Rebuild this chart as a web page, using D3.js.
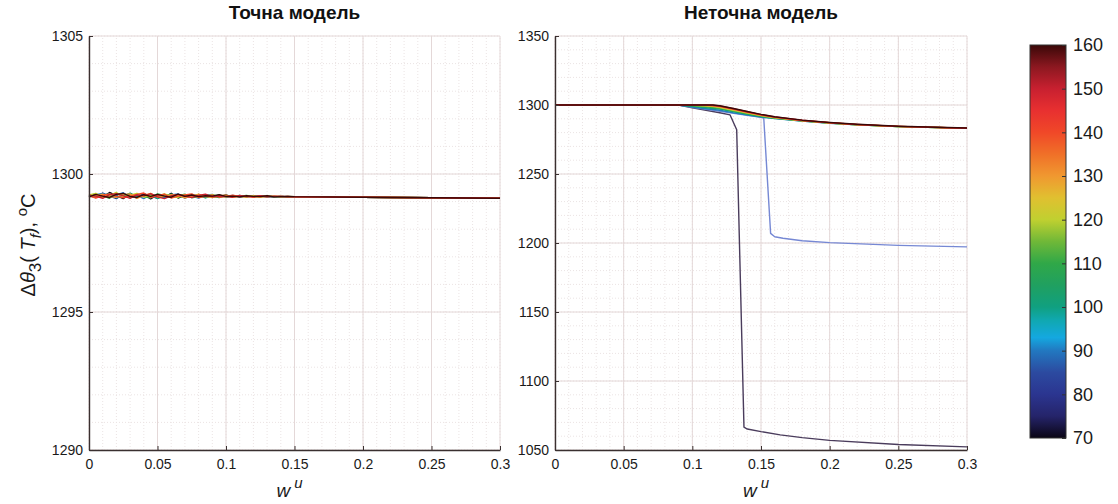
<!DOCTYPE html>
<html>
<head>
<meta charset="utf-8">
<script src="https://cdn.jsdelivr.net/npm/d3@7"></script>
<style>
  body { margin: 0; background: #fff; }
  svg { font-family: "Liberation Sans", Arial, sans-serif; }
  .grid-major line { stroke: #e4d8d8; stroke-width: 1; }
  .grid-minor line { stroke: #ebe4e4; stroke-width: 1; stroke-dasharray: 1,2; }
  .axis path, .axis line { stroke: #3a3030; }
  .axis text { fill: #1a1a1a; font-size: 14px; }
</style>
</head>
<body>
<div id="chart"></div>
<script>
// temperatures of the curves (colour bar values)
const temps = [70, 80, 90, 100, 110, 120, 130, 140, 150, 160];

// left panel: exact model
const wuL = [0, 0.005, 0.01, 0.015, 0.02, 0.025, 0.03, 0.035, 0.04, 0.045, 0.05, 0.055, 0.06, 0.065, 0.07, 0.075,
    0.08, 0.085, 0.09, 0.095, 0.1, 0.105, 0.11, 0.115, 0.12, 0.125, 0.13, 0.135, 0.14, 0.145, 0.15, 0.2, 0.25, 0.3];
const exact70  = [1299.20, 1299.28, 1299.16, 1299.33, 1299.22, 1299.11, 1299.29, 1299.18, 1299.27, 1299.10, 1299.25, 1299.15, 1299.30, 1299.13, 1299.23, 1299.17, 1299.26, 1299.15, 1299.22, 1299.19, 1299.24, 1299.16, 1299.21, 1299.18, 1299.21, 1299.17, 1299.19, 1299.18, 1299.19, 1299.17, 1299.18, 1299.16, 1299.14, 1299.12];
const exact80  = [1299.22, 1299.15, 1299.31, 1299.20, 1299.11, 1299.28, 1299.21, 1299.13, 1299.29, 1299.20, 1299.12, 1299.26, 1299.17, 1299.24, 1299.13, 1299.23, 1299.19, 1299.25, 1299.15, 1299.22, 1299.18, 1299.21, 1299.17, 1299.21, 1299.18, 1299.20, 1299.17, 1299.19, 1299.18, 1299.18, 1299.17, 1299.16, 1299.14, 1299.12];
const exact90  = [1299.18, 1299.25, 1299.30, 1299.15, 1299.24, 1299.32, 1299.16, 1299.23, 1299.11, 1299.27, 1299.20, 1299.14, 1299.24, 1299.28, 1299.16, 1299.20, 1299.13, 1299.23, 1299.26, 1299.17, 1299.20, 1299.22, 1299.16, 1299.20, 1299.19, 1299.21, 1299.18, 1299.17, 1299.19, 1299.18, 1299.18, 1299.16, 1299.14, 1299.12];
const exact100 = [1299.25, 1299.18, 1299.23, 1299.29, 1299.14, 1299.21, 1299.31, 1299.17, 1299.20, 1299.25, 1299.11, 1299.21, 1299.27, 1299.19, 1299.15, 1299.25, 1299.21, 1299.14, 1299.20, 1299.24, 1299.16, 1299.19, 1299.22, 1299.17, 1299.20, 1299.18, 1299.20, 1299.18, 1299.17, 1299.19, 1299.18, 1299.16, 1299.14, 1299.12];
const exact110 = [1299.16, 1299.24, 1299.21, 1299.12, 1299.30, 1299.25, 1299.15, 1299.27, 1299.18, 1299.13, 1299.28, 1299.22, 1299.15, 1299.21, 1299.27, 1299.14, 1299.19, 1299.24, 1299.18, 1299.15, 1299.21, 1299.18, 1299.20, 1299.22, 1299.17, 1299.19, 1299.21, 1299.17, 1299.19, 1299.18, 1299.17, 1299.16, 1299.14, 1299.12];
const exact120 = [1299.24, 1299.30, 1299.15, 1299.22, 1299.33, 1299.17, 1299.23, 1299.30, 1299.16, 1299.22, 1299.19, 1299.28, 1299.20, 1299.15, 1299.25, 1299.21, 1299.16, 1299.20, 1299.25, 1299.19, 1299.17, 1299.21, 1299.19, 1299.16, 1299.21, 1299.19, 1299.17, 1299.20, 1299.18, 1299.18, 1299.18, 1299.16, 1299.14, 1299.12];
const exact130 = [1299.19, 1299.21, 1299.27, 1299.18, 1299.16, 1299.25, 1299.28, 1299.12, 1299.22, 1299.30, 1299.16, 1299.19, 1299.25, 1299.22, 1299.14, 1299.19, 1299.27, 1299.18, 1299.15, 1299.21, 1299.23, 1299.16, 1299.18, 1299.21, 1299.19, 1299.16, 1299.20, 1299.19, 1299.17, 1299.19, 1299.18, 1299.16, 1299.14, 1299.12];
const exact140 = [1299.21, 1299.13, 1299.22, 1299.28, 1299.19, 1299.14, 1299.20, 1299.26, 1299.31, 1299.15, 1299.21, 1299.27, 1299.13, 1299.20, 1299.24, 1299.28, 1299.15, 1299.19, 1299.23, 1299.16, 1299.19, 1299.23, 1299.18, 1299.19, 1299.16, 1299.20, 1299.19, 1299.18, 1299.20, 1299.17, 1299.18, 1299.16, 1299.14, 1299.12];
const exact150 = [1299.23, 1299.20, 1299.12, 1299.25, 1299.29, 1299.21, 1299.12, 1299.24, 1299.21, 1299.29, 1299.17, 1299.11, 1299.21, 1299.26, 1299.20, 1299.15, 1299.22, 1299.27, 1299.17, 1299.20, 1299.18, 1299.16, 1299.22, 1299.18, 1299.18, 1299.21, 1299.17, 1299.20, 1299.18, 1299.19, 1299.17, 1299.16, 1299.14, 1299.12];
const exact160 = [1299.17, 1299.26, 1299.20, 1299.15, 1299.26, 1299.30, 1299.19, 1299.15, 1299.25, 1299.19, 1299.26, 1299.20, 1299.16, 1299.27, 1299.19, 1299.24, 1299.18, 1299.21, 1299.20, 1299.25, 1299.19, 1299.20, 1299.17, 1299.21, 1299.19, 1299.18, 1299.21, 1299.17, 1299.18, 1299.19, 1299.18, 1299.16, 1299.14, 1299.12];
const exactSeries = [exact70, exact80, exact90, exact100, exact110, exact120, exact130, exact140, exact150, exact160];

// right panel: inexact model
const wuR = [0, 0.09, 0.1, 0.11, 0.115, 0.12, 0.13, 0.14, 0.15, 0.16, 0.18, 0.2, 0.22, 0.25, 0.3];
const inexact90  = [1300, 1300, 1298.6, 1297.3, 1296.7, 1296.2, 1294.3, 1292.7, 1291.2, 1290.2, 1288.3, 1286.8, 1285.6, 1284.3, 1283.1];
const inexact100 = [1300, 1300, 1299.0, 1298.0, 1297.5, 1297.0, 1295.0, 1293.2, 1291.6, 1290.4, 1288.4, 1286.9, 1285.6, 1284.3, 1283.1];
const inexact110 = [1300, 1300, 1299.4, 1298.7, 1298.2, 1297.6, 1295.6, 1293.7, 1292.0, 1290.6, 1288.5, 1287.0, 1285.7, 1284.3, 1283.1];
const inexact120 = [1300, 1300, 1299.7, 1299.2, 1298.8, 1298.2, 1296.2, 1294.2, 1292.3, 1290.8, 1288.6, 1287.0, 1285.7, 1284.4, 1283.1];
const inexact130 = [1300, 1300, 1300, 1299.6, 1299.2, 1298.7, 1296.7, 1294.6, 1292.6, 1291.0, 1288.7, 1287.1, 1285.8, 1284.4, 1283.2];
const inexact140 = [1300, 1300, 1300, 1300, 1299.6, 1299.0, 1297.0, 1294.9, 1292.8, 1291.2, 1288.8, 1287.1, 1285.8, 1284.5, 1283.2];
const inexact150 = [1300, 1300, 1300, 1300, 1299.8, 1299.3, 1297.3, 1295.1, 1293.0, 1291.3, 1288.9, 1287.2, 1285.9, 1284.5, 1283.2];
const inexact160 = [1300, 1300, 1300, 1300, 1300, 1299.5, 1297.5, 1295.3, 1293.2, 1291.5, 1289.0, 1287.3, 1286.0, 1284.6, 1283.3];
const wu80 = [0, 0.09, 0.1, 0.11, 0.12, 0.13, 0.14, 0.15, 0.152, 0.157, 0.16, 0.166, 0.18, 0.2, 0.25, 0.3];
const inexact80 = [1300, 1300, 1298.3, 1296.8, 1295.5, 1294.0, 1292.5, 1291.1, 1290.6, 1207, 1204.5, 1203.4, 1201.6, 1200.3, 1198.3, 1197.2];
const wu70 = [0, 0.09, 0.1, 0.11, 0.12, 0.1275, 0.1323, 0.1376, 0.14, 0.15, 0.164, 0.18, 0.2, 0.25, 0.3];
const inexact70 = [1300, 1300, 1298.0, 1296.2, 1294.4, 1292.8, 1282, 1066.5, 1065.2, 1063.3, 1061, 1059, 1057, 1054, 1052.3];

const xTicks = [0, 0.05, 0.1, 0.15, 0.2, 0.25, 0.3];
const xTickLabels = ['0', '0.05', '0.1', '0.15', '0.2', '0.25', '0.3'];
const yTicksL = [1290, 1295, 1300, 1305];
const yTicksR = [1050, 1100, 1150, 1200, 1250, 1300, 1350];
const cbarTicks = [70, 80, 90, 100, 110, 120, 130, 140, 150, 160];

// colour map of the colour bar
const cmapStops = [70, 75, 80, 85, 90, 93, 97, 100, 105, 110, 115, 120, 125, 130, 135, 140, 145, 150, 155, 160];
const cmapColors = ['#0a0514', '#25246a', '#2b3590', '#2c4aa0', '#2278c0', '#14a8e0', '#10a8b0', '#10a080', '#20a060',
    '#30a848', '#70b838', '#c0d030', '#e0c030', '#f09830', '#f07028', '#f04828', '#e83030', '#c82030', '#8c1820', '#3a0808'];

const cmap = d3.scaleLinear().domain(cmapStops).range(cmapColors).interpolate(d3.interpolateRgb);

const svg = d3.select('#chart').append('svg')
    .attr('width', 1118)
    .attr('height', 504);

const drawPanel = function drawPanel(opts) {
    const x = d3.scaleLinear().domain([0, 0.3]).range(opts.xRange);
    const y = d3.scaleLinear().domain(opts.yDomain).range([450, 36]);
    const g = svg.append('g');

    // minor grid
    const minorX = d3.range(0, 0.3001, 0.01);
    const minorY = d3.range(opts.yDomain[0], opts.yDomain[1] + 0.001, opts.minorStep);
    const gm = g.append('g').attr('class', 'grid-minor');
    gm.selectAll('.mx').data(minorX).enter().append('line')
        .attr('x1', (d) => x(d)).attr('x2', (d) => x(d))
        .attr('y1', y.range()[0]).attr('y2', y.range()[1]);
    gm.selectAll('.my').data(minorY).enter().append('line')
        .attr('y1', (d) => y(d)).attr('y2', (d) => y(d))
        .attr('x1', x.range()[0]).attr('x2', x.range()[1]);

    // major grid
    const gM = g.append('g').attr('class', 'grid-major');
    gM.selectAll('.Mx').data(xTicks).enter().append('line')
        .attr('x1', (d) => x(d)).attr('x2', (d) => x(d))
        .attr('y1', y.range()[0]).attr('y2', y.range()[1]);
    gM.selectAll('.My').data(opts.yTicks).enter().append('line')
        .attr('y1', (d) => y(d)).attr('y2', (d) => y(d))
        .attr('x1', x.range()[0]).attr('x2', x.range()[1]);

    // curves
    const line = d3.line()
        .x((d) => x(d[0]))
        .y((d) => y(d[1]));

    g.append('g').selectAll('path')
        .data(opts.series)
        .enter()
    .append('path')
        .attr('d', (d) => line(d.xs.map((v, i) => [v, d.ys[i]])))
        .attr('fill', 'none')
        .attr('stroke', (d) => d.color || cmap(d.t))
        .attr('stroke-width', 1.4)
        .attr('stroke-linejoin', 'round');

    // axes
    g.append('g')
        .attr('class', 'axis')
        .attr('transform', 'translate(0,450)')
        .call(d3.axisBottom(x).tickValues(xTicks)
            .tickFormat((d, i) => xTickLabels[i])
            .tickSizeInner(-4).tickSizeOuter(0).tickPadding(9));

    g.append('g')
        .attr('class', 'axis')
        .attr('transform', 'translate(' + opts.xRange[0] + ',0)')
        .call(d3.axisLeft(y).tickValues(opts.yTicks)
            .tickFormat(d3.format('d'))
            .tickSizeInner(-4).tickSizeOuter(0).tickPadding(6));

    g.selectAll('.axis .domain').attr('stroke-width', 1.4);

    // title
    svg.append('text')
        .attr('x', (opts.xRange[0] + opts.xRange[1]) / 2)
        .attr('y', 19)
        .attr('text-anchor', 'middle')
        .style('font-size', '19px')
        .style('font-weight', 'bold')
        .style('fill', '#111')
        .text(opts.title);

    // x label
    const xl = svg.append('text')
        .attr('x', (opts.xRange[0] + opts.xRange[1]) / 2 - 5)
        .attr('y', 497)
        .attr('text-anchor', 'middle')
        .style('font-size', '19px')
        .style('font-style', 'italic')
        .style('fill', '#1a1a1a');
    xl.append('tspan').text('w');
    xl.append('tspan').attr('dx', 4).attr('dy', -9).style('font-size', '15px').text('u');
};

drawPanel({
    title: 'Точна модель',
    xRange: [89, 500],
    yDomain: [1290, 1305],
    yTicks: yTicksL,
    minorStep: 1,
    series: exactSeries.map((ys, i) => ({t: temps[i], xs: wuL, ys: ys}))
});

drawPanel({
    title: 'Неточна модель',
    xRange: [555, 967],
    yDomain: [1050, 1350],
    yTicks: yTicksR,
    minorStep: 10,
    series: [
        {t: 70, xs: wu70, ys: inexact70, color: '#4a3c5c'},
        {t: 80, xs: wu80, ys: inexact80, color: '#7688d4'},
        {t: 90, xs: wuR, ys: inexact90},
        {t: 100, xs: wuR, ys: inexact100},
        {t: 110, xs: wuR, ys: inexact110},
        {t: 120, xs: wuR, ys: inexact120},
        {t: 130, xs: wuR, ys: inexact130},
        {t: 140, xs: wuR, ys: inexact140},
        {t: 150, xs: wuR, ys: inexact150},
        {t: 160, xs: wuR, ys: inexact160}
    ]
});

// y label
const yl = svg.append('text')
    .attr('transform', 'translate(35,245) rotate(-90)')
    .attr('text-anchor', 'middle')
    .style('font-size', '20px')
    .style('fill', '#1a1a1a');
yl.append('tspan').text('Δ');
yl.append('tspan').style('font-style', 'italic').text('θ');
yl.append('tspan').attr('dy', 6).style('font-size', '17px').text('3');
yl.append('tspan').attr('dy', -6).text('( ');
yl.append('tspan').style('font-style', 'italic').text('T');
yl.append('tspan').attr('dy', 6).style('font-size', '15px').style('font-style', 'italic').text('f');
yl.append('tspan').attr('dy', -6).text('), ');
yl.append('tspan').attr('dy', -8).style('font-size', '15px').text('o');
yl.append('tspan').attr('dy', 8).text('C');

// colour bar
const cb = d3.scaleLinear().domain([70, 160]).range([438, 45]);
const defs = svg.append('defs');
const grad = defs.append('linearGradient')
    .attr('id', 'cbar')
    .attr('x1', 0).attr('x2', 0).attr('y1', 1).attr('y2', 0);
grad.selectAll('stop')
    .data(cmapStops)
    .enter()
.append('stop')
    .attr('offset', (d) => (d - 70) / 90)
    .attr('stop-color', (d) => cmap(d));

svg.append('rect')
    .attr('x', 1030).attr('y', cb(160))
    .attr('width', 36).attr('height', cb(70) - cb(160))
    .attr('fill', 'url(#cbar)')
    .attr('stroke', '#333')
    .attr('stroke-width', 1);

const cbAxis = svg.append('g')
    .attr('transform', 'translate(1066,0)')
    .call(d3.axisRight(cb).tickValues(cbarTicks).tickSizeInner(-4).tickSizeOuter(0).tickPadding(7));
cbAxis.select('.domain').remove();
cbAxis.selectAll('line').attr('stroke', '#333');
cbAxis.selectAll('text').style('font-size', '18px').style('fill', '#1a1a1a')
    .style('font-family', '"Liberation Sans", Arial, sans-serif');
</script>
</body>
</html>
